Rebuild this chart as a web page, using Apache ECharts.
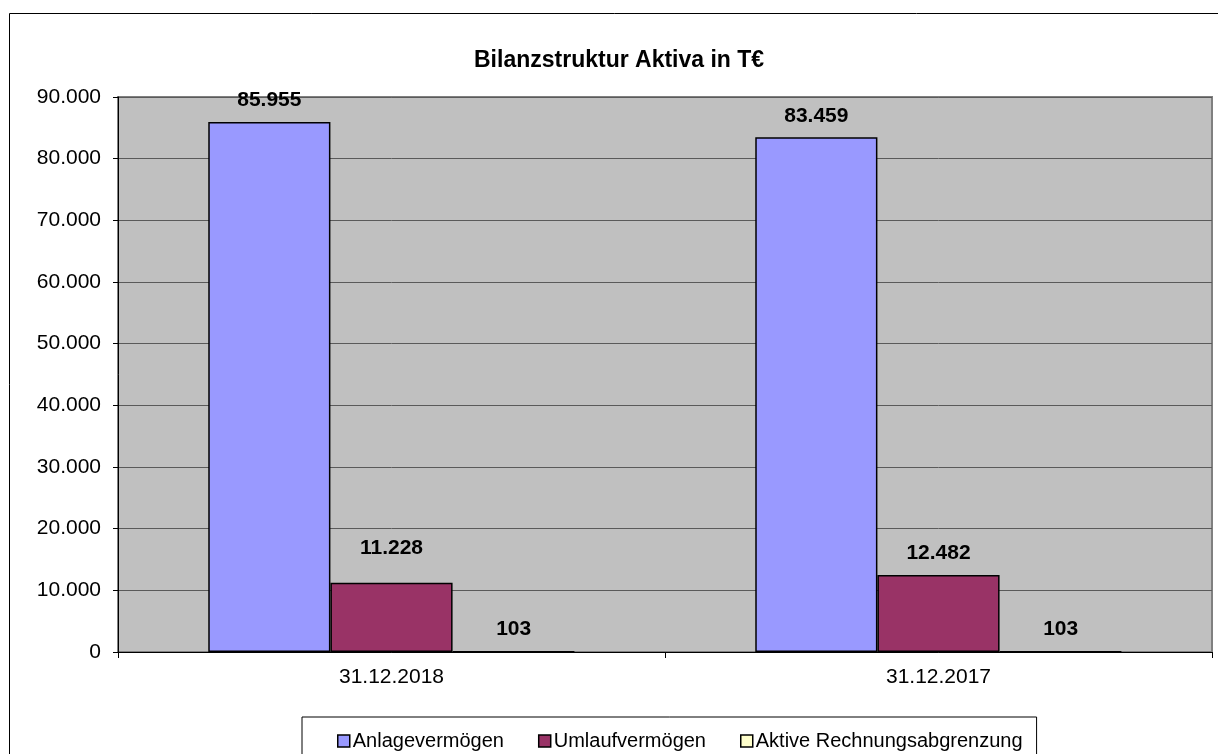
<!DOCTYPE html>
<html>
<head>
<meta charset="utf-8">
<script src="https://cdn.jsdelivr.net/npm/echarts@6/dist/echarts.min.js"></script>
<style>
html,body{margin:0;padding:0;background:#fff;}
#chart{width:1218px;height:754px;}
</style>
</head>
<body>
<div id="chart"></div>
<script>
var categories = ['31.12.2018', '31.12.2017'];
var seriesNames = ['Anlagevermögen', 'Umlaufvermögen', 'Aktive Rechnungsabgrenzung'];
var anlage = [85955, 83459];
var umlauf = [11228, 12482];
var rap = [103, 103];
var yTicks = [0, 10000, 20000, 30000, 40000, 50000, 60000, 70000, 80000, 90000];

var colors = ['#9999FF', '#993366', '#FFFFCC'];
var font = 'Liberation Sans, Arial, sans-serif';

function fmt(v){
	return String(Math.round(v)).replace(/\B(?=(\d{3})+(?!\d))/g, '.');
}

function makeSeries(name, values, color, labelShift){
	return {
		name: name,
		type: 'bar',
		barGap: '0%',
		barCategoryGap: '33%',
		data: values.map(function(v, i){
			var item = {value: v};
			// the first Umlauf label sits a bit higher in the original
			if(labelShift && labelShift[i]) item.label = {offset: [0, labelShift[i]]};
			return item;
		}),
		itemStyle: {color: color, borderColor: '#000', borderWidth: 1.5},
		label: {
			show: true,
			position: 'top',
			distance: 11,
			fontFamily: font,
			fontSize: 21,
			fontWeight: 'bold',
			color: '#000',
			formatter: function(p){ return fmt(p.value); }
		}
	};
}

var chart = echarts.init(document.getElementById('chart'));
chart.setOption({
	animation: false,
	backgroundColor: '#fff',
	graphic: [{
		type: 'rect',
		shape: {x: 9.5, y: 13.5, width: 1230, height: 760},
		style: {fill: 'none', stroke: '#000', lineWidth: 1},
		z: -1
	}],
	title: {
		text: 'Bilanzstruktur Aktiva in T€',
		left: 469,
		top: 44,
		textStyle: {fontFamily: font, fontSize: 23, fontWeight: 'bold', color: '#000'}
	},
	legend: {
		left: 302,
		top: 717,
		padding: [14, 14, 30, 35],
		itemGap: 34,
		itemWidth: 12,
		itemHeight: 12,
		icon: 'rect',
		borderColor: '#000',
		borderWidth: 1,
		backgroundColor: '#fff',
		textStyle: {fontFamily: font, fontSize: 20, color: '#000', padding: [0, 0, 0, -2]},
		itemStyle: {borderColor: '#000', borderWidth: 1.5},
		data: seriesNames
	},
	grid: {
		left: 118,
		right: 6,
		top: 97,
		bottom: 102,
		show: true,
		backgroundColor: '#C0C0C0',
		borderColor: '#808080',
		borderWidth: 2
	},
	xAxis: {
		type: 'category',
		data: categories,
		axisLine: {lineStyle: {color: '#000', width: 1}},
		axisTick: {show: true, length: 6, lineStyle: {color: '#000'}},
		axisLabel: {fontFamily: font, fontSize: 21, color: '#000', margin: 15}
	},
	yAxis: {
		type: 'value',
		min: yTicks[0],
		max: yTicks[yTicks.length - 1],
		interval: yTicks[1] - yTicks[0],
		axisLine: {show: true, lineStyle: {color: '#000', width: 1}},
		axisTick: {show: true, length: 5, lineStyle: {color: '#000'}},
		splitLine: {lineStyle: {color: '#5a5a5a', width: 1}},
		axisLabel: {fontFamily: font, fontSize: 21, color: '#000', margin: 17, formatter: fmt}
	},
	series: [
		makeSeries(seriesNames[0], anlage, colors[0]),
		makeSeries(seriesNames[1], umlauf, colors[1], [-13, 0]),
		makeSeries(seriesNames[2], rap, colors[2])
	]
});
</script>
</body>
</html>
